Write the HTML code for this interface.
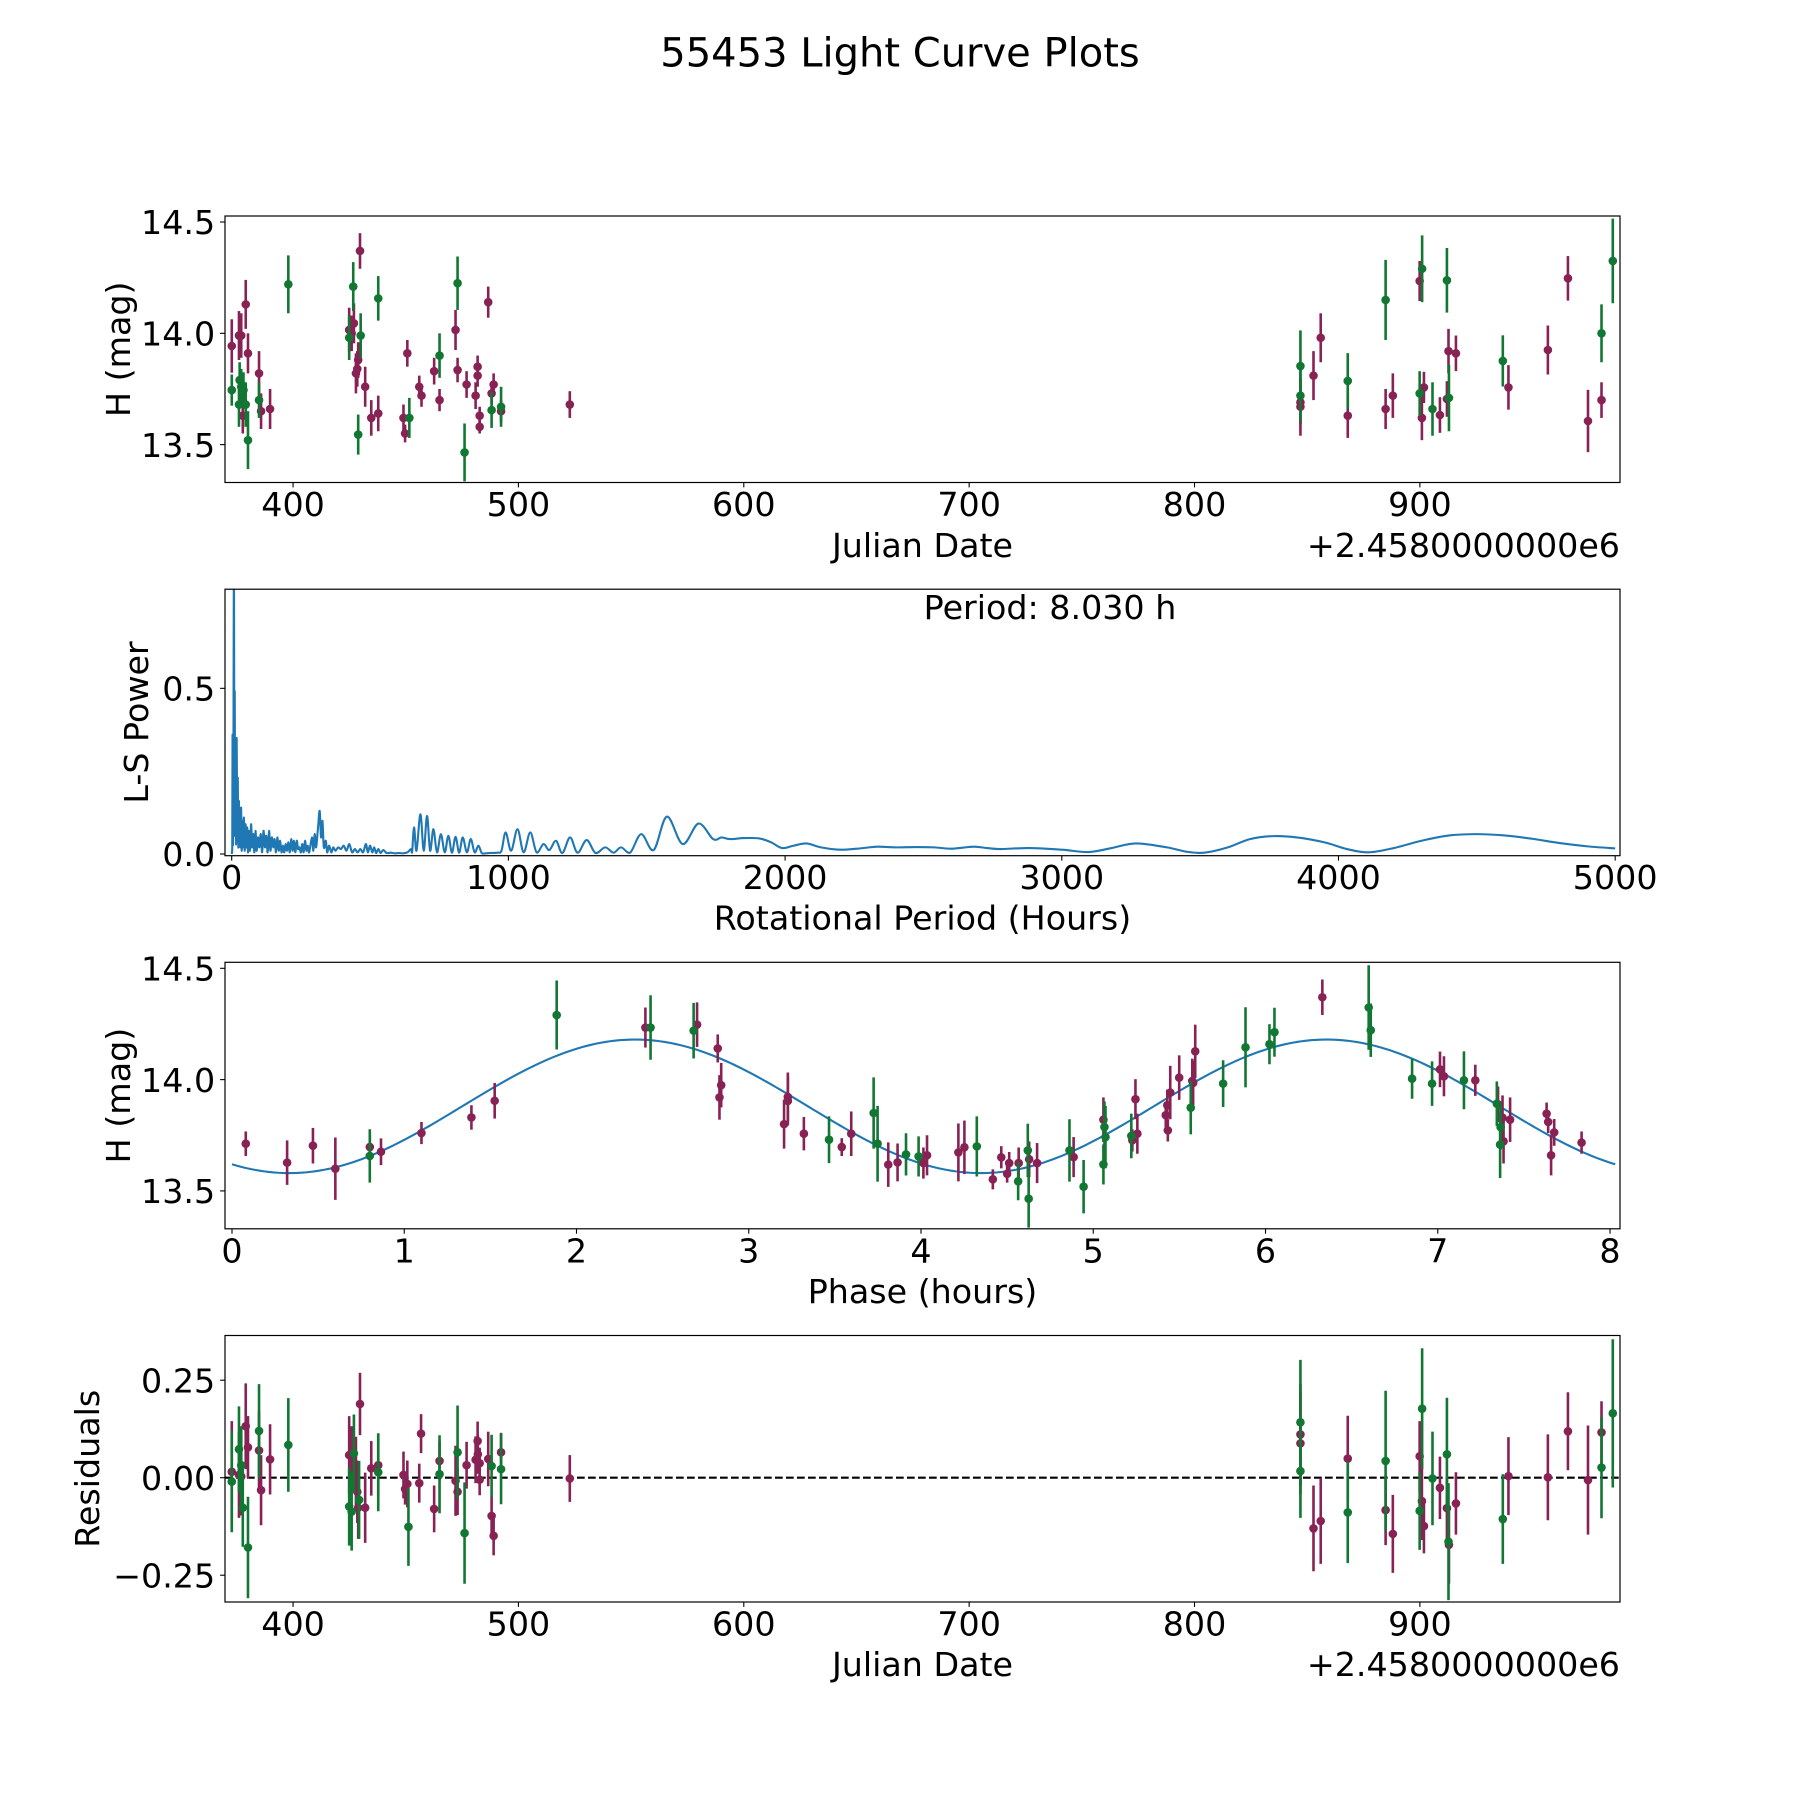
<!DOCTYPE html>
<html>
<head>
<meta charset="utf-8">
<style>
  html, body { margin: 0; padding: 0; background: #ffffff; }
  svg { display: block; font-family: "DejaVu Sans", "Liberation Sans", sans-serif; }
  .tick { font-size: 33.3px; fill: #000; }
  .lab { font-size: 33.3px; fill: #000; }
</style>
</head>
<body>
<svg id="fig" width="1800" height="1800" viewBox="0 0 1800 1800" xmlns="http://www.w3.org/2000/svg">
  <rect x="0" y="0" width="1800" height="1800" fill="#ffffff"/>
  <text x="900" y="66.7" text-anchor="middle" font-size="40" fill="#000">55453 Light Curve Plots</text>

  <g id="p1"></g>
  <text class="lab" x="922.5" y="557" text-anchor="middle">Julian Date</text>
  <text class="lab" x="1620" y="557" text-anchor="end">+2.4580000000e6</text>
  <text class="lab" x="130" y="349.25" text-anchor="middle" transform="rotate(-90 130 349.25)">H (mag)</text>

  <g id="p2"></g>
  <text class="lab" x="922.5" y="929.7" text-anchor="middle">Rotational Period (Hours)</text>
  <text class="lab" x="148" y="722.45" text-anchor="middle" transform="rotate(-90 148 722.45)">L-S Power</text>
  <text class="lab" x="1050" y="619" text-anchor="middle">Period: 8.030 h</text>

  <g id="p3"></g>
  <text class="lab" x="922.5" y="1302.8" text-anchor="middle">Phase (hours)</text>
  <text class="lab" x="130" y="1095.55" text-anchor="middle" transform="rotate(-90 130 1095.55)">H (mag)</text>

  <g id="p4"></g>
  <text class="lab" x="922.5" y="1676" text-anchor="middle">Julian Date</text>
  <text class="lab" x="1620" y="1676" text-anchor="end">+2.4580000000e6</text>
  <text class="lab" x="99" y="1468.75" text-anchor="middle" transform="rotate(-90 99 1468.75)">Residuals</text>
</svg>

<script>
// ---------------- DATA ----------------
const jdMagenta = [372.8,376,377,377.7,379,380,384.9,385.8,389.8,424.9,426,427,428.9,428.5,427.9,429.7,432,434.7,437.8,449,449.7,450.7,456,457,462.6,465,472.1,473,477,481,481.9,481.9,482.8,482.8,486.6,488.1,489,492.3,522.8,847,847,852.8,856,868,884.8,888,899.9,901.8,900.9,908.9,912,912.7,916,939.3,956.8,965.7,974.6,980.6];
const hMagenta = [13.943,13.99,13.99,13.63,14.13,13.91,13.82,13.65,13.66,14.015,14.0,14.045,13.88,13.84,13.82,14.37,13.76,13.62,13.64,13.62,13.55,13.91,13.76,13.72,13.83,13.70,14.015,13.835,13.77,13.72,13.85,13.81,13.63,13.58,14.14,13.73,13.77,13.65,13.68,13.69,13.67,13.81,13.98,13.63,13.66,13.72,14.235,13.757,13.62,13.633,13.705,13.92,13.91,13.757,13.925,14.247,13.606,13.70];
const errMagenta = [0.12,0.11,0.10,0.08,0.11,0.09,0.10,0.08,0.09,0.10,0.08,0.09,0.08,0.08,0.09,0.08,0.09,0.08,0.08,0.06,0.04,0.06,0.05,0.05,0.06,0.05,0.09,0.055,0.06,0.06,0.05,0.05,0.04,0.03,0.07,0.05,0.05,0.05,0.06,0.10,0.13,0.11,0.11,0.10,0.09,0.10,0.09,0.07,0.10,0.08,0.08,0.10,0.08,0.10,0.11,0.10,0.14,0.08];
const jdGreen = [372.8,376.3,377,376,378,379,380,384.9,397.9,424.9,426.7,430,428.9,437.8,451.6,465,473,476.1,488.1,492.3,847,847,868,884.8,899.9,901,905.6,912,912.9,936.8,980.6,985.6];
const hGreen = [13.745,13.79,13.76,13.68,13.745,13.68,13.52,13.70,14.22,13.98,14.21,13.99,13.545,14.157,13.62,13.9,14.225,13.465,13.655,13.67,13.853,13.72,13.786,14.15,13.73,14.29,13.66,14.238,13.71,13.876,14.0,14.325];
const errGreen = [0.07,0.08,0.08,0.10,0.08,0.10,0.13,0.08,0.13,0.10,0.11,0.10,0.09,0.10,0.09,0.10,0.12,0.13,0.08,0.09,0.16,0.12,0.125,0.18,0.10,0.15,0.12,0.145,0.15,0.115,0.13,0.19];

const lsHours = [0,2,3,4,6,8,9.5,11,12.5,14,16,18,20,22,24,26,28,30,32,34,36,39,41,44,47,50,53,56,59,62,66,70,74,78,82,86,90,95,100,105,110,115,120,125,130,135,140,145,150,155,160,165,170,175,180,185,190,195,200,205,210,215,220,225,230,235,240,245,250,255,260,265,270,275,280,290,295,300,305,312,318,323,328,333,340,345,352,360,367,375,385,395,405,415,425,435,445,455,465,475,485,492,500,508,515,522,530,538,548,560,575,590,605,620,635,648,652,659,668,682,694,706,717,729,742,756,770,783,796,809,822,835,850,864,878,892,905,930,960,975,990,1010,1033,1055,1079,1102,1127,1148,1172,1195,1223,1250,1283,1315,1350,1380,1407,1440,1480,1525,1573,1630,1687,1740,1770,1800,1850,1907,1950,1989,2030,2077,2130,2198,2260,2333,2400,2475,2540,2600,2681,2730,2777,2883,3000,3096,3180,3267,3380,3450,3515,3600,3680,3764,3850,3950,4030,4108,4200,4300,4400,4499,4600,4700,4800,4900,5000];
const lsPower = [0.0,0.02,0.36,0.05,0.15,0.98,0.2,0.49,0.06,0.23,0.03,0.35,0.04,0.23,0.02,0.16,0.03,0.12,0.02,0.14,0.01,0.1,0.02,0.11,0.01,0.09,0.02,0.08,0.005,0.07,0.01,0.09,0.02,0.06,0.005,0.07,0.01,0.05,0.02,0.06,0.005,0.07,0.02,0.055,0.005,0.07,0.01,0.05,0.02,0.045,0.005,0.05,0.01,0.04,0.005,0.025,0.005,0.03,0.01,0.035,0.005,0.045,0.01,0.04,0.005,0.04,0.015,0.02,0.005,0.03,0.005,0.04,0.01,0.025,0.005,0.05,0.01,0.06,0.02,0.08,0.13,0.05,0.1,0.02,0.04,0.005,0.025,0.005,0.02,0.01,0.02,0.015,0.025,0.01,0.03,0.005,0.015,0.005,0.015,0.005,0.03,0.005,0.025,0.005,0.02,0.003,0.015,0.003,0.012,0.003,0.004,0.002,0.003,0.002,0.005,0.015,0.005,0.08,0.01,0.12,0.01,0.115,0.01,0.075,0.005,0.06,0.005,0.055,0.004,0.052,0.004,0.05,0.005,0.045,0.005,0.025,0.002,0.003,0.004,0.01,0.065,0.01,0.075,0.005,0.065,0.005,0.03,0.012,0.04,0.003,0.05,0.004,0.042,0.003,0.02,0.004,0.02,0.004,0.06,0.012,0.113,0.03,0.092,0.045,0.05,0.045,0.048,0.047,0.035,0.018,0.025,0.032,0.02,0.013,0.016,0.022,0.02,0.021,0.02,0.016,0.022,0.018,0.015,0.018,0.013,0.006,0.018,0.032,0.02,0.007,0.004,0.02,0.045,0.054,0.05,0.035,0.015,0.005,0.018,0.04,0.056,0.06,0.056,0.046,0.033,0.023,0.017];

const phaseMagenta = [0.08,0.32,0.47,0.60,0.80,0.865,1.10,1.39,1.525,2.40,2.70,2.82,2.84,2.83,3.205,3.227,3.227,3.32,3.54,3.595,3.81,3.864,4.014,4.035,4.217,4.252,4.417,4.466,4.50,4.512,4.567,4.628,4.674,4.886,5.059,5.227,5.256,5.245,5.421,5.43,5.433,5.447,5.499,5.575,5.58,5.592,6.33,7.013,7.036,7.218,7.35,7.376,7.382,7.42,7.632,7.641,7.676,7.658,7.835];
const phaseHMagenta = [13.712,13.627,13.703,13.6,13.697,13.676,13.76,13.83,13.905,14.234,14.247,14.14,13.975,13.92,13.80,13.922,13.904,13.757,13.697,13.757,13.618,13.628,13.625,13.66,13.673,13.696,13.552,13.651,13.577,13.625,13.625,13.642,13.625,13.652,13.82,13.727,13.757,13.912,13.84,13.885,13.772,13.942,14.009,13.994,13.985,14.127,14.37,14.046,14.015,13.997,13.889,13.829,13.723,13.82,13.847,13.81,13.763,13.66,13.717];
const phaseErrMagenta = [0.055,0.10,0.08,0.14,0.055,0.06,0.05,0.055,0.08,0.09,0.10,0.063,0.10,0.10,0.11,0.11,0.11,0.075,0.04,0.10,0.10,0.085,0.07,0.09,0.13,0.12,0.045,0.05,0.04,0.05,0.07,0.08,0.09,0.09,0.10,0.05,0.09,0.09,0.06,0.07,0.05,0.12,0.10,0.10,0.10,0.12,0.08,0.08,0.09,0.07,0.08,0.10,0.10,0.10,0.05,0.05,0.06,0.09,0.05];
const phaseGreen = [0.80,1.885,2.43,2.68,3.466,3.725,3.748,3.913,3.986,4.324,4.564,4.62,4.625,4.862,4.944,5.059,5.065,5.071,5.221,5.566,5.754,5.884,6.023,6.052,6.599,6.611,6.851,6.967,7.152,7.343,7.365,7.362];
const phaseHGreen = [13.657,14.29,14.234,14.22,13.73,13.85,13.712,13.664,13.655,13.70,13.543,13.682,13.465,13.682,13.519,13.619,13.787,13.742,13.747,13.874,13.982,14.145,14.159,14.213,14.324,14.222,14.004,13.982,13.997,13.892,13.786,13.708];
const phaseErrGreen = [0.12,0.155,0.145,0.125,0.105,0.16,0.17,0.095,0.09,0.135,0.085,0.12,0.13,0.14,0.12,0.09,0.115,0.14,0.10,0.12,0.105,0.18,0.09,0.11,0.19,0.12,0.09,0.10,0.13,0.10,0.10,0.15];
const modelMean = 13.88;
const modelAmp = 0.30;
const modelPeakPhase = 2.34;
const modelPeriod = 8.03;

const resJdMagenta = [372.8,376,377,379,380,384.9,385.8,389.8,424.9,426,427.9,428.5,428.9,429.7,432,434.7,437.8,449,449.7,450.7,456,456.8,462.6,465,472.1,473,477,481,481.9,482,482.8,482.8,486.6,488.1,489,492.3,522.8,847,847,852.8,856,868,884.8,888,899.9,900.9,901.8,908.9,912,912.9,916,939.3,956.8,965.7,974.6,980.6];
const resMagenta = [0.015,0.007,0.003,0.132,0.078,0.07,-0.032,0.047,0.058,0.052,0.015,-0.036,-0.077,0.189,-0.077,0.024,0.032,0.007,-0.029,-0.016,-0.014,0.113,-0.08,0.043,-0.008,-0.036,0.032,0.046,0.094,0.06,0.037,-0.005,0.048,-0.098,-0.149,0.065,-0.002,0.111,0.088,-0.13,-0.111,0.049,-0.083,-0.144,0.055,-0.06,-0.124,-0.026,-0.078,-0.172,-0.066,0.004,0.001,0.119,-0.006,0.116];
const resErrMagenta = [0.13,0.11,0.10,0.11,0.08,0.10,0.09,0.09,0.10,0.08,0.09,0.08,0.08,0.08,0.09,0.07,0.08,0.06,0.04,0.06,0.05,0.05,0.06,0.05,0.09,0.06,0.06,0.06,0.05,0.05,0.04,0.04,0.07,0.05,0.05,0.05,0.06,0.13,0.13,0.11,0.11,0.11,0.09,0.10,0.09,0.10,0.07,0.08,0.08,0.10,0.08,0.10,0.11,0.10,0.14,0.08];
const resJdGreen = [372.8,376,377,377.7,380,384.9,397.9,424.9,426,427,429.3,437.8,451.2,465,473,476.1,488.1,492.3,847,847,868,884.8,899.9,901,905.6,912,912.7,936.8,980.6,985.6];
const resGreen = [-0.01,0.073,0.032,-0.077,-0.179,0.12,0.084,-0.074,-0.087,0.062,-0.057,0.014,-0.126,0.009,0.065,-0.142,0.03,0.022,0.142,0.017,-0.089,0.043,-0.085,0.177,-0.002,0.06,-0.164,-0.106,0.026,0.165];
const resErrGreen = [0.13,0.11,0.10,0.10,0.13,0.12,0.12,0.10,0.10,0.10,0.10,0.10,0.10,0.10,0.12,0.13,0.08,0.09,0.16,0.12,0.13,0.18,0.10,0.155,0.12,0.145,0.15,0.115,0.13,0.19];

const p1XTicks = [400,500,600,700,800,900];
const p1YTicks = [13.5,14.0,14.5];
const p1YTickLabels = ['13.5','14.0','14.5'];
const p2XTicks = [0,1000,2000,3000,4000,5000];
const p2YTicks = [0.0,0.5];
const p2YTickLabels = ['0.0','0.5'];
const p3XTicks = [0,1,2,3,4,5,6,7,8];
const p3YTicks = [13.5,14.0,14.5];
const p3YTickLabels = ['13.5','14.0','14.5'];
const p4XTicks = [400,500,600,700,800,900];
const p4YTicks = [-0.25,0.0,0.25];
const p4YTickLabels = ['\u22120.25','0.00','0.25'];

// ---------------- RENDER ----------------
const NS = 'http://www.w3.org/2000/svg';
const MAGENTA = '#882255';
const GREEN = '#117733';
const AX_L = 225, AX_R = 1620, AX_H = 266.5;

function mk(tag, attrs, parent) {
  const el = document.createElementNS(NS, tag);
  for (const k in attrs) el.setAttribute(k, attrs[k]);
  if (parent) parent.appendChild(el);
  return el;
}

function makeAxes(groupId, top, xlim, ylim, clipId) {
  const g = document.getElementById(groupId);
  const sx = v => AX_L + (v - xlim[0]) / (xlim[1] - xlim[0]) * (AX_R - AX_L);
  const sy = v => top + AX_H - (v - ylim[0]) / (ylim[1] - ylim[0]) * AX_H;
  const cp = mk('clipPath', {id: clipId}, g);
  mk('rect', {x: AX_L, y: top, width: AX_R - AX_L, height: AX_H}, cp);
  const plot = mk('g', {'clip-path': 'url(#' + clipId + ')'}, g);
  
  
  return {g, plot, sx, sy, top, bottom: top + AX_H};
}

function drawFrame(ax, xTicks, xLabels, yTicks, yLabels) {
  const frame = mk('rect', {x: AX_L, y: ax.top, width: AX_R - AX_L, height: AX_H, fill: 'none', stroke: '#000', 'stroke-width': 1.2}, ax.g);
  
  
  xTicks.forEach((t, i) => {
    const x = ax.sx(t);
    const tl = mk('line', {x1: x, x2: x, y1: ax.bottom, y2: ax.bottom + 4.9, stroke: '#000', 'stroke-width': 1.1}, ax.g);
    
    
    const tx = mk('text', {x: x, y: ax.bottom + 33.5, 'text-anchor': 'middle', class: 'tick'}, ax.g);
    tx.textContent = xLabels[i];
    
    
  });
  yTicks.forEach((t, i) => {
    const y = ax.sy(t);
    const tl = mk('line', {x1: AX_L - 4.9, x2: AX_L, y1: y, y2: y, stroke: '#000', 'stroke-width': 1.1}, ax.g);
    
    
    const tx = mk('text', {x: AX_L - 9.8, y: y + 12.2, 'text-anchor': 'end', class: 'tick'}, ax.g);
    tx.textContent = yLabels[i];
    
    
  });
}

function drawErrSeries(ax, xs, ys, es, color, name) {
  for (let i = 0; i < xs.length; i++) {
    const x = ax.sx(xs[i]);
    const l = mk('line', {x1: x, x2: x, y1: ax.sy(ys[i] - es[i]), y2: ax.sy(ys[i] + es[i]), stroke: color, 'stroke-width': 2.6}, ax.plot);
    
    
    const c = mk('circle', {cx: x, cy: ax.sy(ys[i]), r: 4.3, fill: color}, ax.plot);
    
    
  }
}

// Panel 1
const ax1 = makeAxes('p1', 216, [369.8, 988.8], [13.3298, 14.527], 'clip1');
drawErrSeries(ax1, jdMagenta, hMagenta, errMagenta, MAGENTA, 'magenta-observation');
drawErrSeries(ax1, jdGreen, hGreen, errGreen, GREEN, 'green-observation');
drawFrame(ax1, p1XTicks, p1XTicks.map(String), p1YTicks, p1YTickLabels);

// Panel 2 (smoothed Catmull-Rom through data points, control points kept above zero)
const ax2 = makeAxes('p2', 589.2, [-24.2, 5017.4], [-0.0051, 0.7992], 'clip2');
const lsP = lsHours.map((h, i) => [ax2.sx(h), ax2.sy(lsPower[i])]);
const y0 = ax2.sy(0);
let d = 'M' + lsP[0][0].toFixed(2) + ',' + lsP[0][1].toFixed(2);
for (let i = 0; i < lsP.length - 1; i++) {
  const p0 = lsP[Math.max(0, i - 1)], p1 = lsP[i], p2 = lsP[i + 1], p3 = lsP[Math.min(lsP.length - 1, i + 2)];
  const c1x = p1[0] + (p2[0] - p0[0]) / 6, c1y = Math.min(y0, p1[1] + (p2[1] - p0[1]) / 6);
  const c2x = p2[0] - (p3[0] - p1[0]) / 6, c2y = Math.min(y0, p2[1] - (p3[1] - p1[1]) / 6);
  d += ' C' + c1x.toFixed(2) + ',' + c1y.toFixed(2) + ' ' + c2x.toFixed(2) + ',' + c2y.toFixed(2) + ' ' + p2[0].toFixed(2) + ',' + p2[1].toFixed(2);
}
const lsLine = mk('path', {d: d, fill: 'none', stroke: '#1f77b4', 'stroke-width': 2.1, 'stroke-linejoin': 'round'}, ax2.plot);


drawFrame(ax2, p2XTicks, p2XTicks.map(String), p2YTicks, p2YTickLabels);

// Panel 3
const ax3 = makeAxes('p3', 962.3, [-0.0406, 8.058], [13.3298, 14.527], 'clip3');
const modelPts = [];
for (let k = 0; k <= 300; k++) {
  const ph = modelPeriod * k / 300;
  const val = modelMean + modelAmp * Math.cos(4 * Math.PI * (ph - modelPeakPhase) / modelPeriod);
  modelPts.push(ax3.sx(ph).toFixed(2) + ',' + ax3.sy(val).toFixed(2));
}
const modelLine = mk('polyline', {points: modelPts.join(' '), fill: 'none', stroke: '#1f77b4', 'stroke-width': 2.1}, ax3.plot);


drawErrSeries(ax3, phaseMagenta, phaseHMagenta, phaseErrMagenta, MAGENTA, 'magenta-phased');
drawErrSeries(ax3, phaseGreen, phaseHGreen, phaseErrGreen, GREEN, 'green-phased');
drawFrame(ax3, p3XTicks, p3XTicks.map(String), p3YTicks, p3YTickLabels);

// Panel 4
const ax4 = makeAxes('p4', 1335.5, [369.8, 988.8], [-0.3187, 0.3646], 'clip4');
const zl = mk('line', {x1: AX_L, x2: AX_R, y1: ax4.sy(0), y2: ax4.sy(0), stroke: '#000', 'stroke-width': 2.1, 'stroke-dasharray': '7.7 3.3'}, ax4.plot);


drawErrSeries(ax4, resJdMagenta, resMagenta, resErrMagenta, MAGENTA, 'magenta-residual');
drawErrSeries(ax4, resJdGreen, resGreen, resErrGreen, GREEN, 'green-residual');
drawFrame(ax4, p4XTicks, p4XTicks.map(String), p4YTicks, p4YTickLabels);
</script>
</body>
</html>
